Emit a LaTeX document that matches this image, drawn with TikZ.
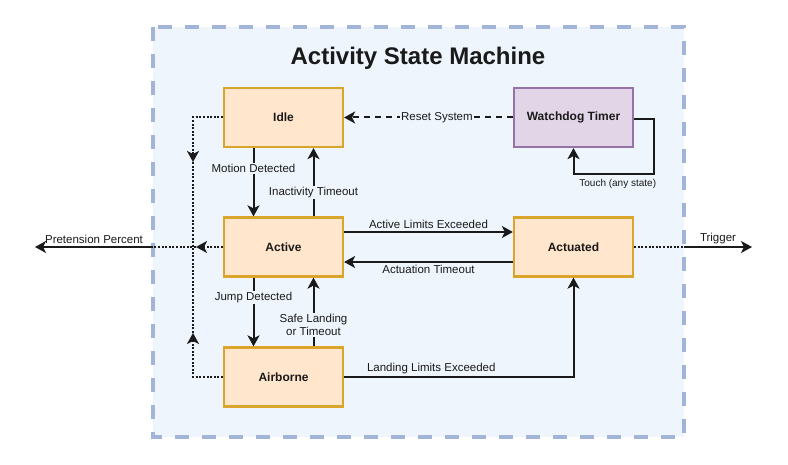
\documentclass[tikz,border=0pt]{standalone}
\usepackage{fontspec}
\setmainfont{Liberation Sans}
\usetikzlibrary{arrows.meta,positioning}
\definecolor{ink}{HTML}{1A1A1A}
\definecolor{panelfill}{HTML}{EEF5FD}
\definecolor{paneledge}{HTML}{A2B5D8}
\definecolor{statefill}{HTML}{FFE6CC}
\definecolor{stateedge}{HTML}{DAA52A}
\definecolor{watchfill}{HTML}{E1D5E7}
\definecolor{watchedge}{HTML}{9673A6}
\tikzset{
  panel/.style={draw=paneledge,fill=panelfill,line width=3.2pt,dash pattern=on 14pt off 13pt},
  heading/.style={font=\fontsize{24}{27}\selectfont\bfseries,text=ink},
  state/.style={rectangle,draw=stateedge,fill=statefill,line width=2.2pt,minimum width=119pt,minimum height=59pt,inner sep=0pt,font=\fontsize{12}{14}\selectfont\bfseries,text=ink},
  watch/.style={state,draw=watchedge,fill=watchfill},
  tag/.style={font=\fontsize{11.5}{13.5}\selectfont,text=ink,fill=panelfill,inner sep=1pt,align=center},
  smalltag/.style={tag,font=\fontsize{10}{12}\selectfont},
  flow/.style={-{Stealth[length=11pt,width=12pt,inset=3pt]},line width=2pt,ink},
  reset/.style={flow,dash pattern=on 6pt off 5pt},
  signal/.style={flow,line width=2pt,dash pattern=on 2pt off 1.6pt},
  wire/.style={line width=2pt,ink,dash pattern=on 2pt off 1.6pt},
  outflow/.style={flow}
}
\begin{document}
\begin{tikzpicture}[x=1pt,y=-1pt]
    \useasboundingbox (0,0) rectangle (788,465);
    \draw[panel] (153,27) rectangle (684,437);
    \node[heading] (title) at (418,58) {Activity State Machine};
    % states
    \node[state] (idle) at (283.5,117.5) {Idle};
    \node[state] (active) at (283.5,247) {Active};
    \node[state] (airborne) at (283.5,377) {Airborne};
    \node[state] (actuated) at (573.5,247) {Actuated};
    \node[watch] (watchdog) at (573.5,117.5) {Watchdog Timer};
    % ports and junctions
    \coordinate (hub) at (193,247);
    \coordinate (hubtip) at (196,247);
    \coordinate (idledrop) at (193,162);
    \coordinate (airrise) at (193,333);
    \coordinate (westport) at (153,247);
    \coordinate (eastport) at (684,247);
    \coordinate (pretension) at (35,247);
    \coordinate (trigger) at (752,247);
    % transitions
    \draw[flow] ([xshift=-30pt]idle.south) -- node[tag,pos=0.3]{Motion Detected} ([xshift=-30pt]active.north);
    \draw[flow] ([xshift=30pt]active.north) -- node[tag,pos=0.35]{Inactivity Timeout} ([xshift=30pt]idle.south);
    \draw[flow] ([xshift=-30pt]active.south) -- node[tag,pos=0.29]{Jump Detected} ([xshift=-30pt]airborne.north);
    \draw[flow] ([xshift=30pt]airborne.north) -- node[tag,pos=0.31]{Safe Landing\\or Timeout} ([xshift=30pt]active.south);
    \draw[flow] ([yshift=15pt]active.east) -- node[tag,above=1pt,fill=none]{Active Limits Exceeded} ([yshift=15pt]actuated.west);
    \draw[flow] ([yshift=-15pt]actuated.west) -- node[tag,below=1pt,fill=none]{Actuation Timeout} ([yshift=-15pt]active.east);
    \draw[flow] (airborne.east) -| node[tag,above=1pt,fill=none,pos=0.19]{Landing Limits Exceeded} (actuated.south);
    \draw[reset] (watchdog.west) -- node[tag,pos=0.45]{Reset System} (idle.east);
    \draw[flow] ([yshift=-2pt]watchdog.east) -- ++(20,0) -- ++(0,55) node[smalltag,anchor=north east,xshift=4pt,yshift=-3pt]{Touch (any state)} -| (watchdog.south);
    % outputs
    \draw[signal] (idle.west) -| (idledrop);
    \draw[wire] (idledrop) -- (hub);
    \draw[signal] (airborne.west) -| (airrise);
    \draw[wire] (airrise) -- (hub);
    \draw[signal] (active.west) -- (hubtip);
    \draw[wire] (hubtip) -- (westport);
    \draw[outflow] (westport) -- node[tag,above=1pt,fill=none]{Pretension Percent} (pretension);
    \draw[wire] (actuated.east) -- (eastport);
    \draw[outflow] (eastport) -- node[tag,above=1pt,fill=none]{Trigger} (trigger);
  \end{tikzpicture}
\end{document}
